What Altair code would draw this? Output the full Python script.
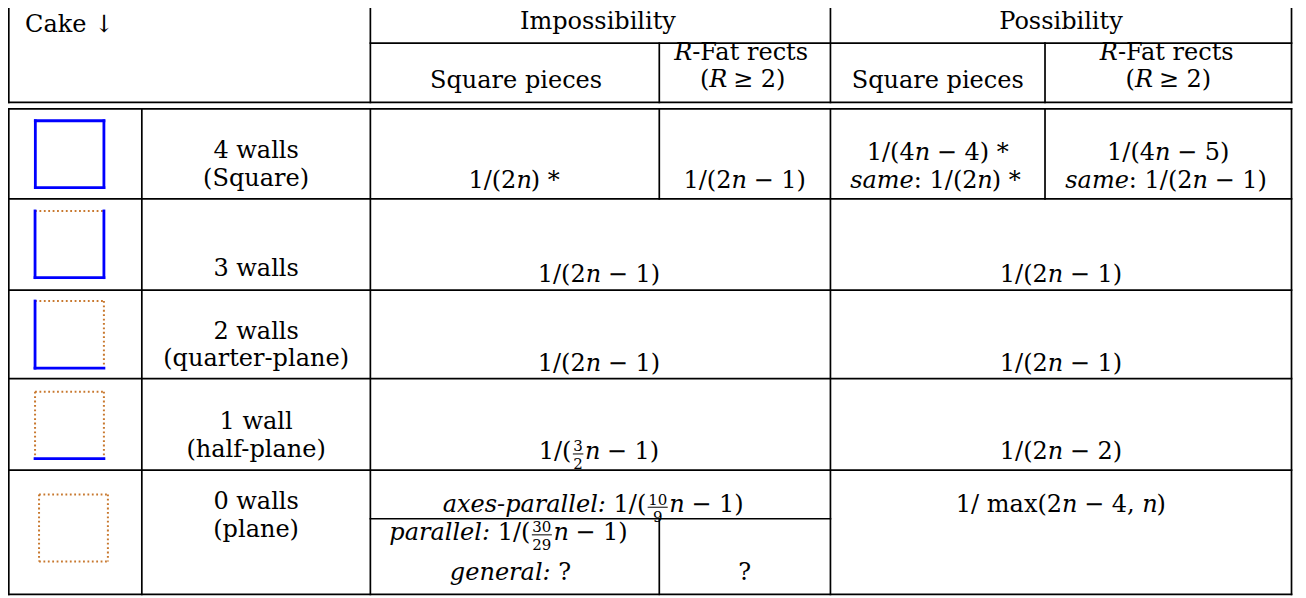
import re
import altair as alt
import pandas as pd

# ---------------- table content (_x_ = italic, {a|b} = stacked fraction) ----------------
CAKE_HEADER = "Cake ↓"
GROUPS = ["Impossibility", "Possibility"]
SUB_SQUARE = "Square pieces"
SUB_FAT = ["_R_-Fat rects", "(_R_ ≥ 2)"]

WALL_NAMES = ["4 walls", "3 walls", "2 walls", "1 wall", "0 walls"]
WALL_NOTES = ["(Square)", "", "(quarter-plane)", "(half-plane)", "(plane)"]
SOLID_SIDES = [["top", "right", "bottom", "left"],
               ["right", "bottom", "left"],
               ["bottom", "left"],
               ["bottom"],
               []]

IMP_SQUARE_4 = "1/(2_n_) *"
IMP_FAT_4 = "1/(2_n_ − 1)"
POS_SQUARE_4 = ["1/(4_n_ − 4) *", "_same_: 1/(2_n_) *"]
POS_FAT_4 = ["1/(4_n_ − 5)", "_same_: 1/(2_n_ − 1)"]
IMP_MERGED = ["1/(2_n_ − 1)", "1/(2_n_ − 1)", "1/({3|2}_n_ − 1)"]   # 3, 2, 1 walls
POS_MERGED = ["1/(2_n_ − 1)", "1/(2_n_ − 1)", "1/(2_n_ − 2)", "1/ max(2_n_ − 4, _n_)"]
IMP_0WALL_AXES = "_axes-parallel:_ 1/({10|9}_n_ − 1)"
IMP_0WALL_PAR = "_parallel:_ 1/({30|29}_n_ − 1)"
IMP_0WALL_GEN = "_general:_ ?"
IMP_0WALL_FAT = "?"

# ---------------- layout (reference pixel grid) ----------------
FONT = "DejaVu Serif"
FS = 24
FS_FRAC = 15
XL, XI, XH, XS, XM, XP, XR = 5.7, 139, 368, 657.5, 829, 1044, 1291
YA, YB1, YB2 = 35.7, 95.7, 102.3
YROW = [102.3, 193.5, 286, 375.7, 468.3, 594.3]
Y5S = 517.7

EM = {' ': .318, '(': .390, ')': .390, '*': .500, ',': .318, '-': .338, '/': .337,
      ':': .337, '?': .533, 'a': .596, 'c': .560, 'e': .592, 'g': .640, 'h': .644,
      'l': .320, 'm': .948, 'n': .644, 'p': .640, 'r': .478, 's': .513, 't': .402,
      'x': .564, 'i': .320, 'o': .602, 'u': .644, 'w': .856, 'y': .565, 'k': .580,
      'b': .640, 'q': .640, 'd': .640, 'f': .370, 'R': .726, 'F': .683, 'S': .650,
      '−': .838, '≥': .838}


def tw(s, size=FS, italic=False):
    w = sum(EM.get(c, .636) for c in s) * size
    return w * (0.93 if italic else 1.0)


segs = []
bars = []


def add(text, x, y, align="center", style="normal", size=FS):
    segs.append(dict(text=text, x=x, y=y, anchor=align, fstyle=style, size=size))


def rich(markup, cx, y, align="center"):
    parts = [p for p in re.split(r"(_[^_]+_|\{[^}]+\})", markup) if p]
    runs = []
    for p in parts:
        if p.startswith("_"):
            t = p[1:-1]
            runs.append(("i", t, tw(t, italic=True)))
        elif p.startswith("{"):
            num, den = p[1:-1].split("|")
            fw = max(tw(num, FS_FRAC), tw(den, FS_FRAC)) + 4
            runs.append(("f", (num, den), fw))
        else:
            runs.append(("n", p, tw(p)))
    total = sum(r[2] for r in runs)
    x = cx - total / 2 if align == "center" else cx
    for k, (kind, t, w) in enumerate(runs):
        if kind == "f":
            num, den = t
            fc = x + w / 2
            add(num, fc, y - 7.5, "center", size=FS_FRAC)
            add(den, fc, y + 10, "center", size=FS_FRAC)
            bars.append(dict(x=x + 1.5, x2=x + w - 1.5, y=y - 5, y2=y - 5))
        else:
            italic = kind == "i"
            style = "italic" if italic else "normal"
            sw = tw(" ", italic=italic)
            lead = len(t) - len(t.lstrip(" "))
            trail = len(t) - len(t.rstrip(" "))
            core = t.strip(" ")
            if k == 0 and len(runs) > 1:
                add(core, x + w - trail * sw, y, "right", style)
            else:
                add(core, x + lead * sw, y, "left", style)
        x += w


# header
add(CAKE_HEADER, 22, 24, "left")
add(GROUPS[0], 596, 21)
add(GROUPS[1], 1060, 21)
add(SUB_SQUARE, 514, 81)
add(SUB_SQUARE, 936.5, 81)
for cx in (741, 1167.5):
    rich(SUB_FAT[0], cx, 52.5)
    rich(SUB_FAT[1], cx, 80.5)

# row labels
label_y = [(152, 180), (272, None), (335, 363), (427, 455), (508, 536)]
for name, note, (y1, y2) in zip(WALL_NAMES, WALL_NOTES, label_y):
    add(name, 253.5, y1)
    if note:
        add(note, 253.5, y2)

# 4 walls
rich(IMP_SQUARE_4, 512, 182)
rich(IMP_FAT_4, 743, 182)
rich(POS_SQUARE_4[0], 936.5, 154.5)
rich(POS_SQUARE_4[1], 936.5, 182.5)
rich(POS_FAT_4[0], 1167.5, 154.5)
rich(POS_FAT_4[1], 1167.5, 182.5)
# 3, 2, 1 walls
for txt, y in zip(IMP_MERGED, (278, 368, 457)):
    rich(txt, 597, y)
for txt, y in zip(POS_MERGED, (278, 368, 457, 511)):
    rich(txt, 1060, y)
# 0 walls
rich(IMP_0WALL_AXES, 597, 511)
rich(IMP_0WALL_PAR, 510, 539)
rich(IMP_0WALL_GEN, 512, 580)
rich(IMP_0WALL_FAT, 743, 580)

text_df = pd.DataFrame(segs)
bar_df = pd.DataFrame(bars)

# grid lines
lines = []


def vl(x, y0, y1):
    lines.append(dict(x=x, x2=x, y=y0, y2=y1))


def hl(y, x0, x1):
    lines.append(dict(x=x0, x2=x1, y=y, y2=y))


for x in (XL, XH, XM, XR):
    vl(x, 0, YB1)
    vl(x, YB2, YROW[-1])
vl(XI, YB2, YROW[-1])
for x in (XS, XP):
    vl(x, YA, YB1)
    vl(x, YB2, YROW[1])
vl(XS, Y5S, YROW[-1])
hl(YA, XH, XR)
for y in [YB1] + YROW:
    hl(y, XL, XR)
hl(Y5S, XH, XM)
line_df = pd.DataFrame(lines)

# cake icons
icon_boxes = [(32.3, 114.3, 101, 182), (32, 205.7, 101, 273.3), (32, 297, 101, 365),
              (32, 389, 101, 456.7), (36, 493, 105, 561)]
icons = []
for (x0, y0, x1, y1), solid in zip(icon_boxes, SOLID_SIDES):
    sides = {"top": (x0, y0, x1, y0), "right": (x1, y0, x1, y1),
             "bottom": (x0, y1, x1, y1), "left": (x0, y0, x0, y1)}
    for k, (a, b, c, d) in sides.items():
        icons.append(dict(x=a, y=b, x2=c, y2=d, kind="solid" if k in solid else "dotted"))
icon_df = pd.DataFrame(icons)

xs = alt.Scale(domain=[4.9, 1297.5], nice=False, zero=False)
ys = alt.Scale(domain=[0, 598], nice=False, zero=False, reverse=True)


def seg_enc(ch):
    return ch.encode(
        x=alt.X("x:Q", scale=xs, axis=None),
        x2="x2:Q",
        y=alt.Y("y:Q", scale=ys, axis=None),
        y2="y2:Q",
    )


layers = [
    seg_enc(alt.Chart(line_df).mark_rule(color="black", strokeWidth=1.7, strokeCap="square")),
    seg_enc(alt.Chart(bar_df).mark_rule(color="black", strokeWidth=1.0)),
    seg_enc(alt.Chart(icon_df).transform_filter("datum.kind == 'dotted'").mark_rule(
        color="#c8782e", strokeWidth=2.0, strokeDash=[1.8, 2.6], strokeCap="butt")),
    seg_enc(alt.Chart(icon_df).transform_filter("datum.kind == 'solid'").mark_rule(
        color="#0000ff", strokeWidth=2.8, strokeCap="square")),
]

for align in ("left", "center", "right"):
    for style in ("normal", "italic"):
        sub = text_df[(text_df["anchor"] == align) & (text_df["fstyle"] == style)]
        if len(sub) == 0:
            continue
        layers.append(
            alt.Chart(sub).mark_text(
                align=align, baseline="alphabetic", font=FONT, fontStyle=style, color="black"
            ).encode(
                x=alt.X("x:Q", scale=xs, axis=None),
                y=alt.Y("y:Q", scale=ys, axis=None),
                text="text:N",
                size=alt.Size("size:Q", scale=None),
            )
        )

chart = alt.layer(*layers).properties(
    width=1290, height=590, padding=0,
    autosize=alt.AutoSizeParams(type="none"),
).configure_view(strokeWidth=0)

chart.save("out.html", embed_options={"renderer": "svg", "actions": False})
